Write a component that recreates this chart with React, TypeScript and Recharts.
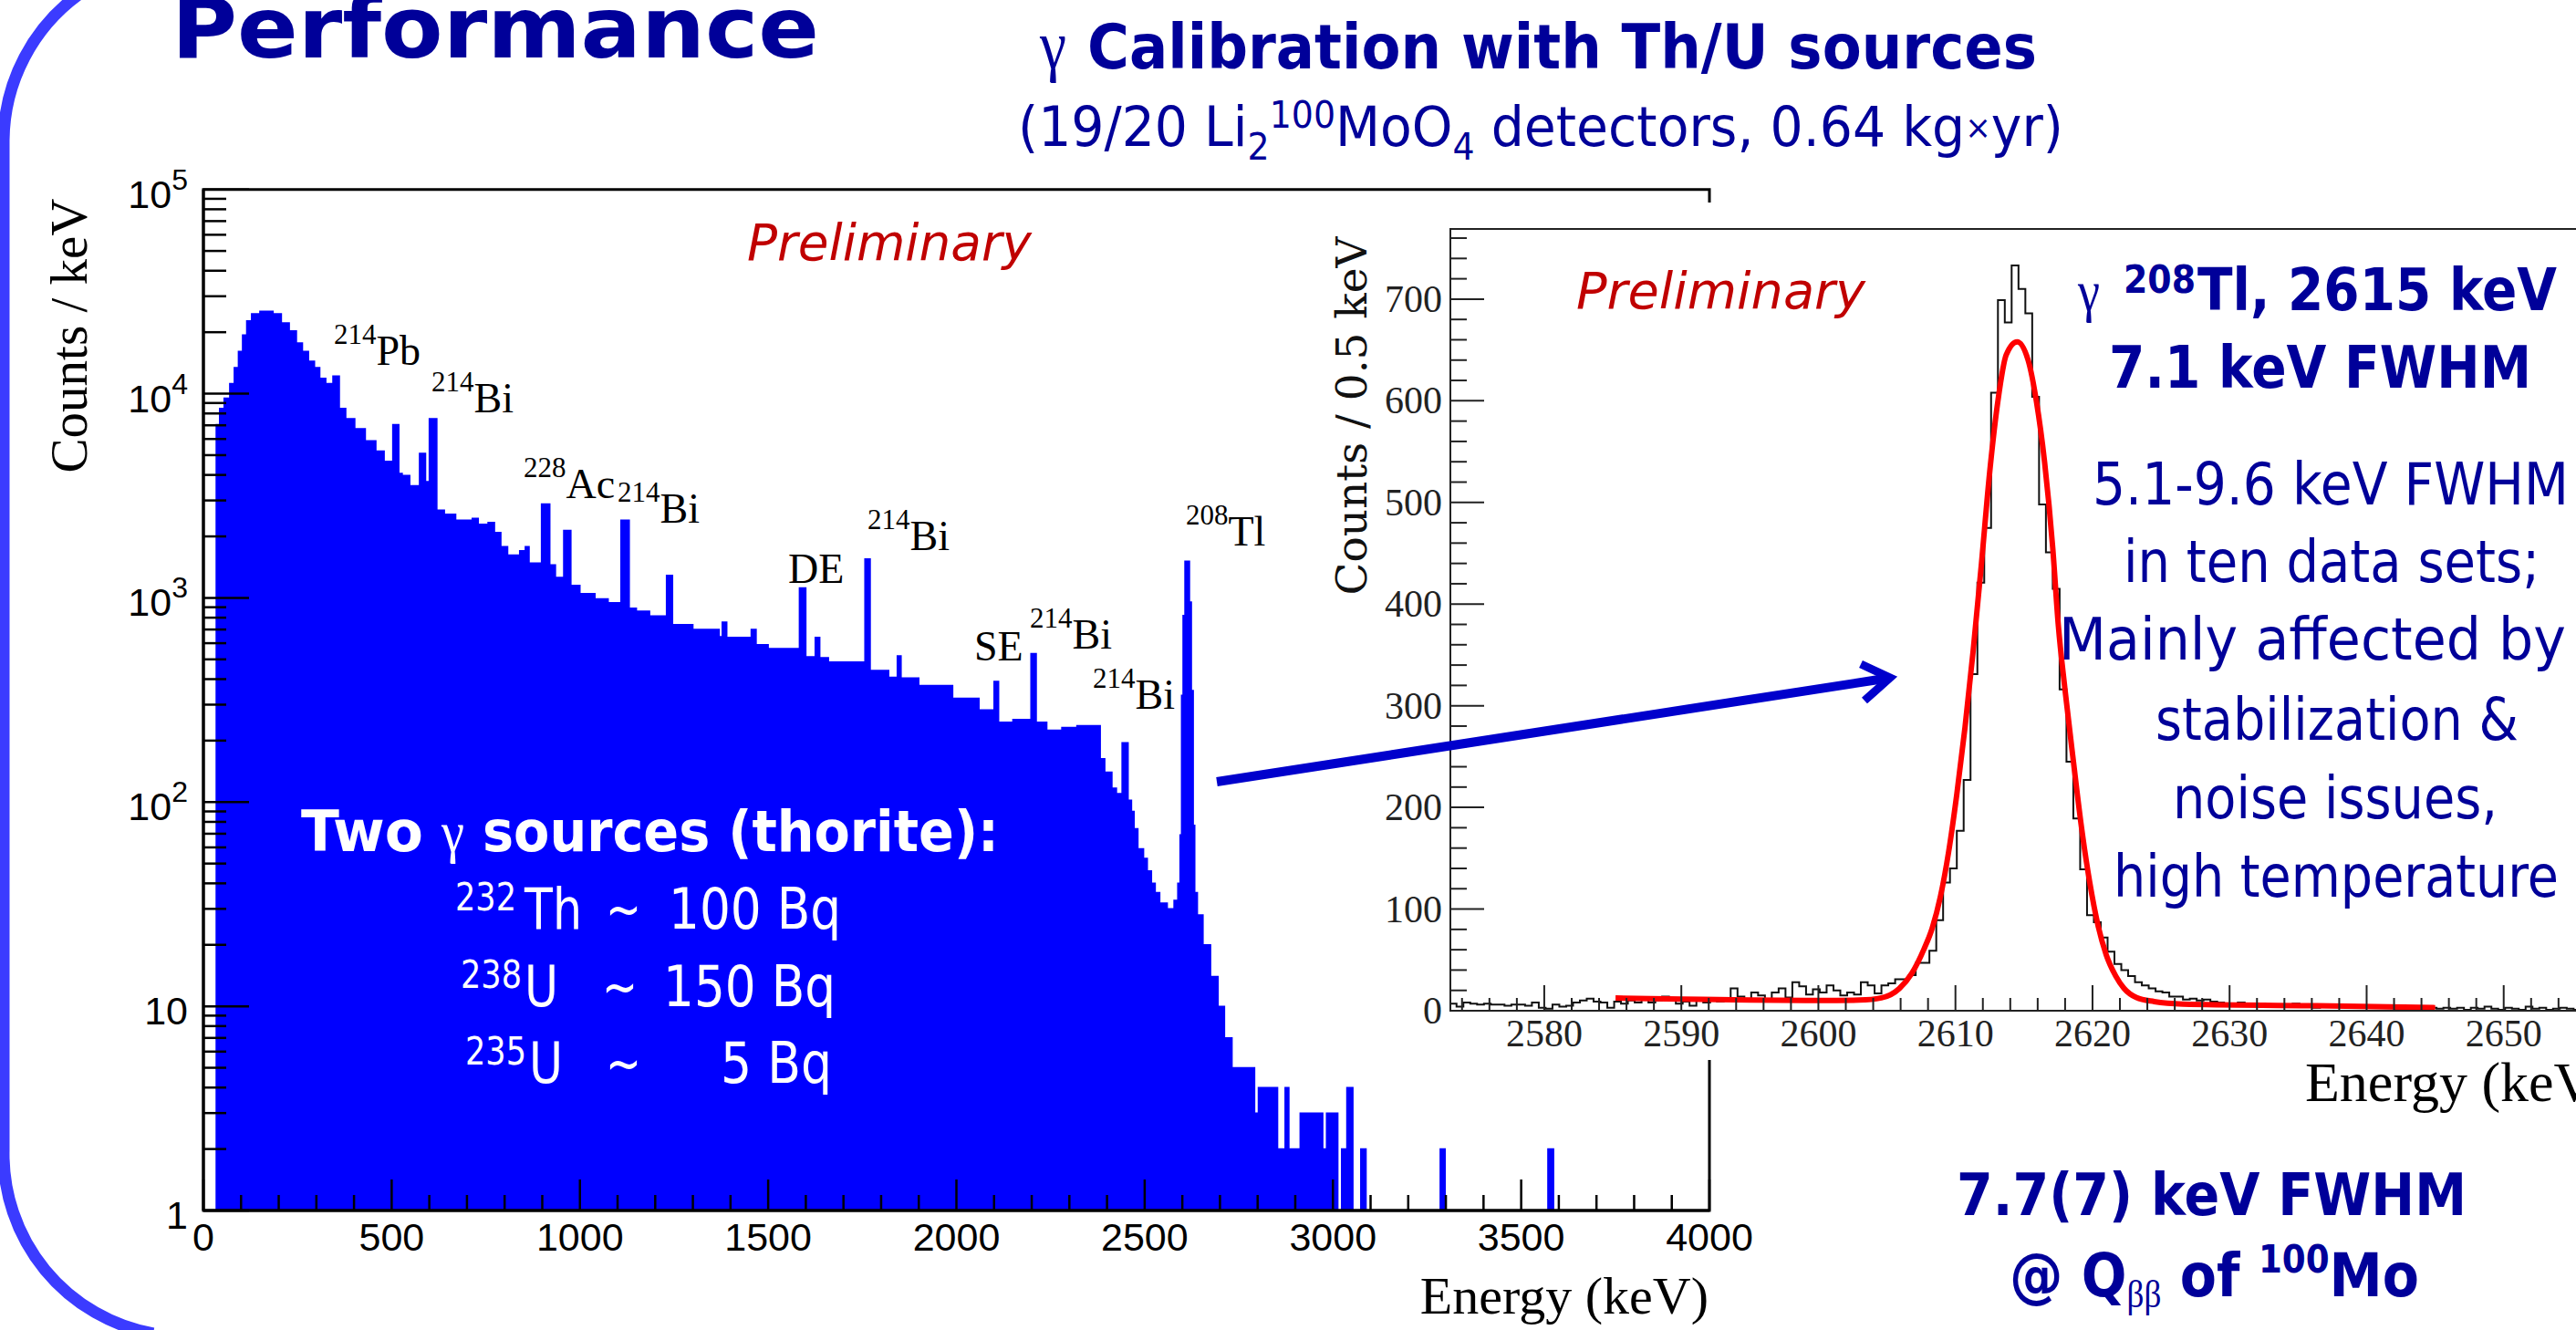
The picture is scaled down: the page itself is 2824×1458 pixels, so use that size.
import React from 'react';
import { AreaChart, Area, LineChart, Line, XAxis, YAxis, ReferenceArea } from 'recharts';

const SANS = "'DejaVu Sans', Verdana, sans-serif";
const SERIF = "'Liberation Serif', 'Times New Roman', serif";
const ARIAL = "'Liberation Sans', Arial, sans-serif";
const DSERIF = "'DejaVu Serif', serif";
const NAVY = '#000099';

// ---- Left spectrum (Counts / keV) : step start energy and counts ----
const specE = [0, 34, 43, 55, 70, 82, 93, 104, 115, 128, 150, 185, 207, 228, 247, 263, 279, 295, 309, 325, 344, 361, 378, 402, 430, 458, 480, 503, 519, 528, 548, 574, 590, 600, 620, 640, 670, 714, 730, 756, 773, 790, 808, 840, 855, 865, 898, 920, 935, 957, 976, 1000, 1040, 1075, 1109, 1131, 1150, 1185, 1230, 1246, 1300, 1370, 1378, 1390, 1455, 1468, 1500, 1583, 1600, 1625, 1637, 1660, 1757, 1771, 1820, 1843, 1853, 1900, 1990, 2060, 2100, 2112, 2150, 2198, 2212, 2240, 2280, 2320, 2382, 2394, 2413, 2425, 2440, 2456, 2465, 2472, 2482, 2497, 2507, 2518, 2528, 2540, 2560, 2578, 2588, 2594, 2598, 2602, 2607, 2619, 2624, 2629, 2633, 2640, 2655, 2675, 2695, 2712, 2732, 2792, 2802, 2853, 2873, 2883, 2913, 2973, 2983, 3013, 3023, 3037, 3053, 3074, 3088, 3285, 3298, 3571, 3586, 4000];
const specC = [1, 7050, 8470, 9500, 11200, 13400, 16100, 19400, 22700, 24600, 25300, 24600, 22200, 20300, 17700, 16100, 14400, 13400, 11900, 11200, 12200, 8470, 7550, 6740, 5870, 5230, 4660, 7050, 4070, 3980, 3540, 5100, 3710, 7550, 2690, 2570, 2400, 2450, 2290, 2340, 2090, 1780, 1620, 1700, 1780, 1480, 2880, 1450, 1260, 2140, 1150, 1050, 990, 946, 2400, 890, 860, 815, 1290, 740, 700, 645, 760, 640, 700, 590, 565, 1120, 515, 640, 510, 485, 1550, 441, 408, 520, 405, 372, 322, 283, 390, 246, 254, 533, 246, 225, 232, 237, 163, 140, 117, 110, 195, 102, 90, 74, 59, 53, 46, 40, 36, 32, 30, 33, 40, 69, 333, 820, 1510, 955, 352, 77, 36, 28, 20, 14, 10, 7, 5, 3, 4, 2, 4, 2, 3, 2, 3, 1, 2, 4, 1, 2, 1, 2, 1, 2, 1, 1];
const specData = specE.map((e, i) => ({ e, c: specC[i] }));

// ---- Inset: 208Tl peak, 0.5 keV bins starting at 2572.6 keV ----
const insetStart = 2572.6;
const insetBin = 0.5;
const insetCounts = [
  6, 7, 4, 8, 7, 6, 7, 6, 6, 5, 6, 6, 5, 8, 3, 2, 6, 4, 5, 8, 10, 12, 9, 8, 3,
  9, 7, 10, 8, 12, 8, 10, 14, 12, 7, 9, 5, 10, 8, 12, 9, 11, 22, 14, 9, 18, 15, 9, 18, 22,
  13, 28, 24, 16, 21, 18, 25, 20, 15, 18, 16, 28, 25, 17, 25, 27, 31, 31, 35, 47,
  47, 59, 89, 126, 140, 177, 227, 331, 421, 475, 608, 699, 677, 733, 710, 686, 604, 498, 451, 415,
  316, 245, 189, 139, 94, 87, 72, 58, 46, 40, 34, 28, 25, 22, 19, 18, 14, 14, 11, 12,
  10, 11, 9, 8, 7, 6, 8, 5, 6, 7, 5, 4, 6, 5, 7, 4, 5, 3, 5, 4, 6, 4, 3, 5, 4, 3, 5, 3, 4, 2,
  4, 3, 2, 4, 3, 2, 3, 2, 3, 1, 3, 2, 4, 2, 1, 3, 2, 1, 4, 2, 3, 1, 2, 3, 2, 1, 2,
  3, 1, 2, 2, 1, 3, 2, 2, 2,
];
const insetData = insetCounts.map((v, i) => ({ e: insetStart + i * insetBin, v }));

// fit curve
const fitE = [2585.2, 2590, 2595, 2600, 2603, 2604.6, 2605.9, 2606.8, 2607.7, 2608.3, 2608.9, 2609.5, 2610.1, 2610.7, 2611.3, 2611.9, 2612.5, 2613.1, 2613.7, 2614.5, 2615.3, 2615.9, 2616.5, 2617.1, 2617.5, 2618.0, 2618.6, 2619.2, 2619.8, 2620.4, 2621.0, 2621.7, 2622.3, 2623.2, 2624.5, 2626.6, 2635.8, 2645];
const fitV = [12.5, 11.5, 10.5, 10, 10.5, 12.7, 21.8, 36.5, 60.5, 81, 112, 156, 213, 279, 355, 440, 530, 600, 645, 658, 640, 600, 540, 455, 380, 315, 246, 180, 126, 84, 55, 34, 22, 13, 9, 6.6, 5, 3];
const fitData = fitE.map((e, i) => ({ e, v: fitV[i] }));

// ---- ticks ----
const leftXTicks = Array.from({ length: 41 }, (_, i) => i * 100);
const decades = [1, 10, 100, 1000, 10000];
const leftYTicks: number[] = [];
decades.forEach((d) => { for (let k = 1; k <= 9; k++) leftYTicks.push(d * k); });
leftYTicks.push(100000);
const insetYTicks = Array.from({ length: 39 }, (_, i) => i * 20);
const insetXTicks = Array.from({ length: 44 }, (_, i) => 2574 + i * 2);

const LeftYTick = (props: any) => {
  const { x, y, payload } = props;
  const v = payload.value;
  const lg = Math.log10(v);
  const e = Math.round(lg);
  const major = Math.abs(lg - e) < 1e-9;
  return (
    <g>
      <line x1={x} y1={y} x2={x + (major ? 50 : 25)} y2={y} stroke="#000" strokeWidth={2.5} />
      {major && (
        <text x={x - 17} y={y + 20} textAnchor="end" fontFamily={ARIAL} fontSize={43} fill="#000">
          {e === 0 ? '1' : e === 1 ? '10' : (
            <>
              <tspan>10</tspan>
              <tspan dy={-20} fontSize={32}>{e}</tspan>
            </>
          )}
        </text>
      )}
    </g>
  );
};

const LeftXTick = (props: any) => {
  const { x, y, payload } = props;
  const v = payload.value;
  const major = v % 500 === 0;
  return (
    <g>
      <line x1={x} y1={y} x2={x} y2={y - (major ? 34 : 17)} stroke="#000" strokeWidth={2.5} />
      {major && (
        <text x={x} y={y + 44} textAnchor="middle" fontFamily={ARIAL} fontSize={43} fill="#000">{v}</text>
      )}
    </g>
  );
};

const InsetYTick = (props: any) => {
  const { x, y, payload } = props;
  const v = payload.value;
  const major = v % 100 === 0;
  return (
    <g>
      <line x1={x} y1={y} x2={x + (major ? 37 : 18)} y2={y} stroke="#222" strokeWidth={2} />
      {major && (
        <text x={x - 9} y={y + 14} textAnchor="end" fontFamily={SERIF} fontSize={42} fill="#222">{v}</text>
      )}
    </g>
  );
};

const InsetXTick = (props: any) => {
  const { x, y, payload } = props;
  const v = payload.value;
  const major = v % 10 === 0;
  return (
    <g>
      <line x1={x} y1={y} x2={x} y2={y - (major ? 28 : 14)} stroke="#222" strokeWidth={2} />
      {major && (
        <text x={x} y={y + 39} textAnchor="middle" fontFamily={SERIF} fontSize={42} fill="#222">{v}</text>
      )}
    </g>
  );
};

const isoLabels = [
  { a: '214', s: 'Pb', x: 366, y: 400 },
  { a: '214', s: 'Bi', x: 473, y: 452 },
  { a: '228', s: 'Ac', x: 574, y: 546 },
  { a: '214', s: 'Bi', x: 677, y: 573 },
  { a: '', s: 'DE', x: 864, y: 639 },
  { a: '214', s: 'Bi', x: 951, y: 603 },
  { a: '', s: 'SE', x: 1068, y: 724 },
  { a: '214', s: 'Bi', x: 1129, y: 711 },
  { a: '214', s: 'Bi', x: 1198, y: 777 },
  { a: '208', s: 'Tl', x: 1300, y: 598 },
];

const sourceLines = [
  { iso: '232', el: 'Th', supX: 499, elX: 575, elW: 63, tX: 664, val: '100 Bq', valX: 733, valW: 189, y: 1018 },
  { iso: '238', el: 'U', supX: 505, elX: 575, elW: 37, tX: 660, val: '150 Bq', valX: 727, valW: 189, y: 1103 },
  { iso: '235', el: 'U', supX: 510, elX: 580, elW: 37, tX: 664, val: '5 Bq', valX: 790, valW: 122, y: 1187 },
];

const rightLines = [
  { t: '5.1-9.6 keV FWHM', x: 2294, w: 522, y: 553 },
  { t: 'in ten data sets;', x: 2328, w: 456, y: 638 },
  { t: 'Mainly affected by', x: 2257, w: 556, y: 723 },
  { t: 'stabilization &', x: 2363, w: 398, y: 811 },
  { t: 'noise issues,', x: 2382, w: 356, y: 897 },
  { t: 'high temperature', x: 2317, w: 488, y: 983 },
];

const T = (p: any) => (
  <text
    x={p.x}
    y={p.y}
    fontSize={p.s}
    fontFamily={p.ff || SANS}
    fontWeight={p.fw || 'normal'}
    fontStyle={p.fs || 'normal'}
    fill={p.fill || NAVY}
    textAnchor={p.anchor || 'start'}
    textLength={p.w}
    lengthAdjust={p.w ? 'spacingAndGlyphs' : undefined}
    transform={p.transform}
  >
    {p.children}
  </text>
);

export default function App() {
  return (
    <div style={{ position: 'absolute', left: 0, top: 0, width: 2824, height: 1458, overflow: 'hidden', background: '#fff' }}>
      <div style={{ position: 'absolute', left: 0, top: 0 }}>
        <AreaChart width={1960} height={1458} data={specData} margin={{ top: 207.7, right: 86, bottom: 101, left: 163 }}>
          <Area type="stepAfter" dataKey="c" stroke="#0000FF" strokeWidth={1.5} fill="#0000FF" fillOpacity={1} baseValue={1} isAnimationActive={false} dot={false} activeDot={false} />
          <XAxis type="number" dataKey="e" domain={[0, 4000]} ticks={leftXTicks} interval={0} allowDataOverflow
            tickLine={false} tickSize={0} tickMargin={0} height={30}
            axisLine={{ stroke: '#000', strokeWidth: 3 }} tick={(p: any) => <LeftXTick {...p} />} />
          <YAxis type="number" scale="log" domain={[1, 100000]} ticks={leftYTicks} interval={0} allowDataOverflow
            tickLine={false} tickSize={0} tickMargin={0} width={60}
            axisLine={{ stroke: '#000', strokeWidth: 3 }} tick={(p: any) => <LeftYTick {...p} />} />
          <ReferenceArea x1={0} x2={4000} y1={1} y2={100000} fill="none" fillOpacity={0} stroke="#000" strokeWidth={3} />
        </AreaChart>
      </div>

      <div style={{ position: 'absolute', left: 1400, top: 222, width: 1424, height: 940, background: '#fff' }} />

      <div style={{ position: 'absolute', left: 1400, top: 222 }}>
        <LineChart width={1520} height={1000} margin={{ top: 29, right: 25, bottom: 84, left: 130 }}>
          <XAxis type="number" dataKey="e" domain={[2573.15, 2660]} ticks={insetXTicks} interval={0} allowDataOverflow
            tickLine={false} tickSize={0} tickMargin={0} height={30}
            axisLine={{ stroke: '#222', strokeWidth: 2 }} tick={(p: any) => <InsetXTick {...p} />} />
          <YAxis type="number" domain={[0, 769]} ticks={insetYTicks} interval={0} allowDataOverflow
            tickLine={false} tickSize={0} tickMargin={0} width={60}
            axisLine={{ stroke: '#222', strokeWidth: 2 }} tick={(p: any) => <InsetYTick {...p} />} />
          <Line data={insetData} dataKey="v" type="stepAfter" stroke="#111" strokeWidth={2} dot={false} activeDot={false} isAnimationActive={false} />
          <Line data={fitData} dataKey="v" type="monotone" stroke="#FF0000" strokeWidth={6} dot={false} activeDot={false} isAnimationActive={false} />
          <ReferenceArea x1={2573.15} x2={2660} y1={0} y2={769} fill="none" fillOpacity={0} stroke="#222" strokeWidth={2} />
        </LineChart>
      </div>

      <svg style={{ position: 'absolute', left: 0, top: 0 }} width={2824} height={1458}>
        {/* slide border decoration */}
        <path d="M 89 -8 A 200 200 0 0 0 4 154 L 4 1262 A 200 200 0 0 0 168 1462" fill="none" stroke="#3B3BFF" strokeWidth={13} />

        {/* titles */}
        <T x={188} y={63} s={92} fw="bold" w={710}>Performance</T>
        <T x={1140} y={75} s={76} ff={SERIF} w={29}>γ</T>
        <T x={1192} y={75} s={68} fw="bold" w={1041}>Calibration with Th/U sources</T>
        <text x={1116} y={160} fontSize={60} fontFamily={SANS} fill={NAVY} textLength={1146} lengthAdjust="spacingAndGlyphs">
          (19/20 Li<tspan fontSize={40} dy={15}>2</tspan>
          <tspan fontSize={40} dy={-35}>100</tspan>
          <tspan dy={20}>MoO</tspan>
          <tspan fontSize={40} dy={15}>4</tspan>
          <tspan dy={-15}> detectors, 0.64 kg</tspan>
          <tspan fontSize={36} dy={-8}>×</tspan>
          <tspan dy={8}>yr)</tspan>
        </text>

        {/* left plot labels */}
        <T x={95} y={368} s={57} ff={SERIF} fill="#000" anchor="middle" w={301} transform="rotate(-90 95 368)">Counts / keV</T>
        <T x={1873} y={1440} s={58} ff={SERIF} fill="#000" anchor="end">Energy (keV)</T>
        <T x={819} y={285} s={56} fs="italic" fill="#C00000" w={312}>Preliminary</T>
        {isoLabels.map((l, i) => (
          <text key={i} x={l.x} y={l.y} fontFamily={SERIF} fontSize={46} fill="#000">
            {l.a ? (
              <>
                <tspan fontSize={31} dy={-23}>{l.a}</tspan>
                <tspan dy={23}>{l.s}</tspan>
              </>
            ) : l.s}
          </text>
        ))}

        {/* white source text */}
        <T x={330} y={933} s={63} fw="bold" fill="#fff" w={134}>Two</T>
        <T x={484} y={933} s={64} ff={SERIF} fill="#fff" w={25}>γ</T>
        <T x={529} y={933} s={63} fw="bold" fill="#fff" w={566}>sources (thorite):</T>
        {sourceLines.map((l, i) => (
          <g key={i}>
            <T x={l.supX} y={l.y - 20} s={42} fill="#fff" w={67}>{l.iso}</T>
            <T x={l.elX} y={l.y} s={62} fill="#fff" w={l.elW}>{l.el}</T>
            <T x={l.tX} y={l.y} s={62} fill="#fff" w={39}>~</T>
            <T x={l.valX} y={l.y} s={62} fill="#fff" w={l.valW}>{l.val}</T>
          </g>
        ))}

        {/* inset labels */}
        <T x={1498} y={456} s={46} ff={DSERIF} fill="#111" anchor="middle" w={393} transform="rotate(-90 1498 456)">Counts / 0.5 keV</T>
        <T x={2527} y={1207} s={62} ff={SERIF} fill="#000">Energy (keV)</T>
        <T x={1728} y={338} s={56} fs="italic" fill="#C00000" w={317}>Preliminary</T>

        {/* right annotation */}
        <T x={2278} y={340} s={64} ff={SERIF} w={24}>γ</T>
        <T x={2328} y={321} s={42} fw="bold" w={79}>208</T>
        <T x={2409} y={340} s={64} fw="bold" w={394}>Tl, 2615 keV</T>
        <T x={2312} y={425} s={64} fw="bold" w={463}>7.1 keV FWHM</T>
        {rightLines.map((l, i) => (
          <T key={i} x={l.x} y={l.y} s={64} w={l.w}>{l.t}</T>
        ))}
        <T x={2145} y={1332} s={64} fw="bold" w={559}>7.7(7) keV FWHM</T>
        <text x={2203} y={1421} fontSize={66} fontFamily={SANS} fontWeight="bold" fill={NAVY} textLength={449} lengthAdjust="spacingAndGlyphs">
          @ Q<tspan fontSize={42} fontFamily={SERIF} fontWeight="normal" dy={12}>ββ</tspan>
          <tspan dy={-12}> of </tspan>
          <tspan fontSize={42} dy={-26}>100</tspan>
          <tspan dy={26}>Mo</tspan>
        </text>

        {/* arrow */}
        <line x1={1334} y1={857} x2={2066} y2={744} stroke="#0000CC" strokeWidth={10} />
        <polyline points="2040,728 2072,743 2044,768" fill="none" stroke="#0000CC" strokeWidth={9} strokeLinejoin="miter" />
      </svg>
    </div>
  );
}
